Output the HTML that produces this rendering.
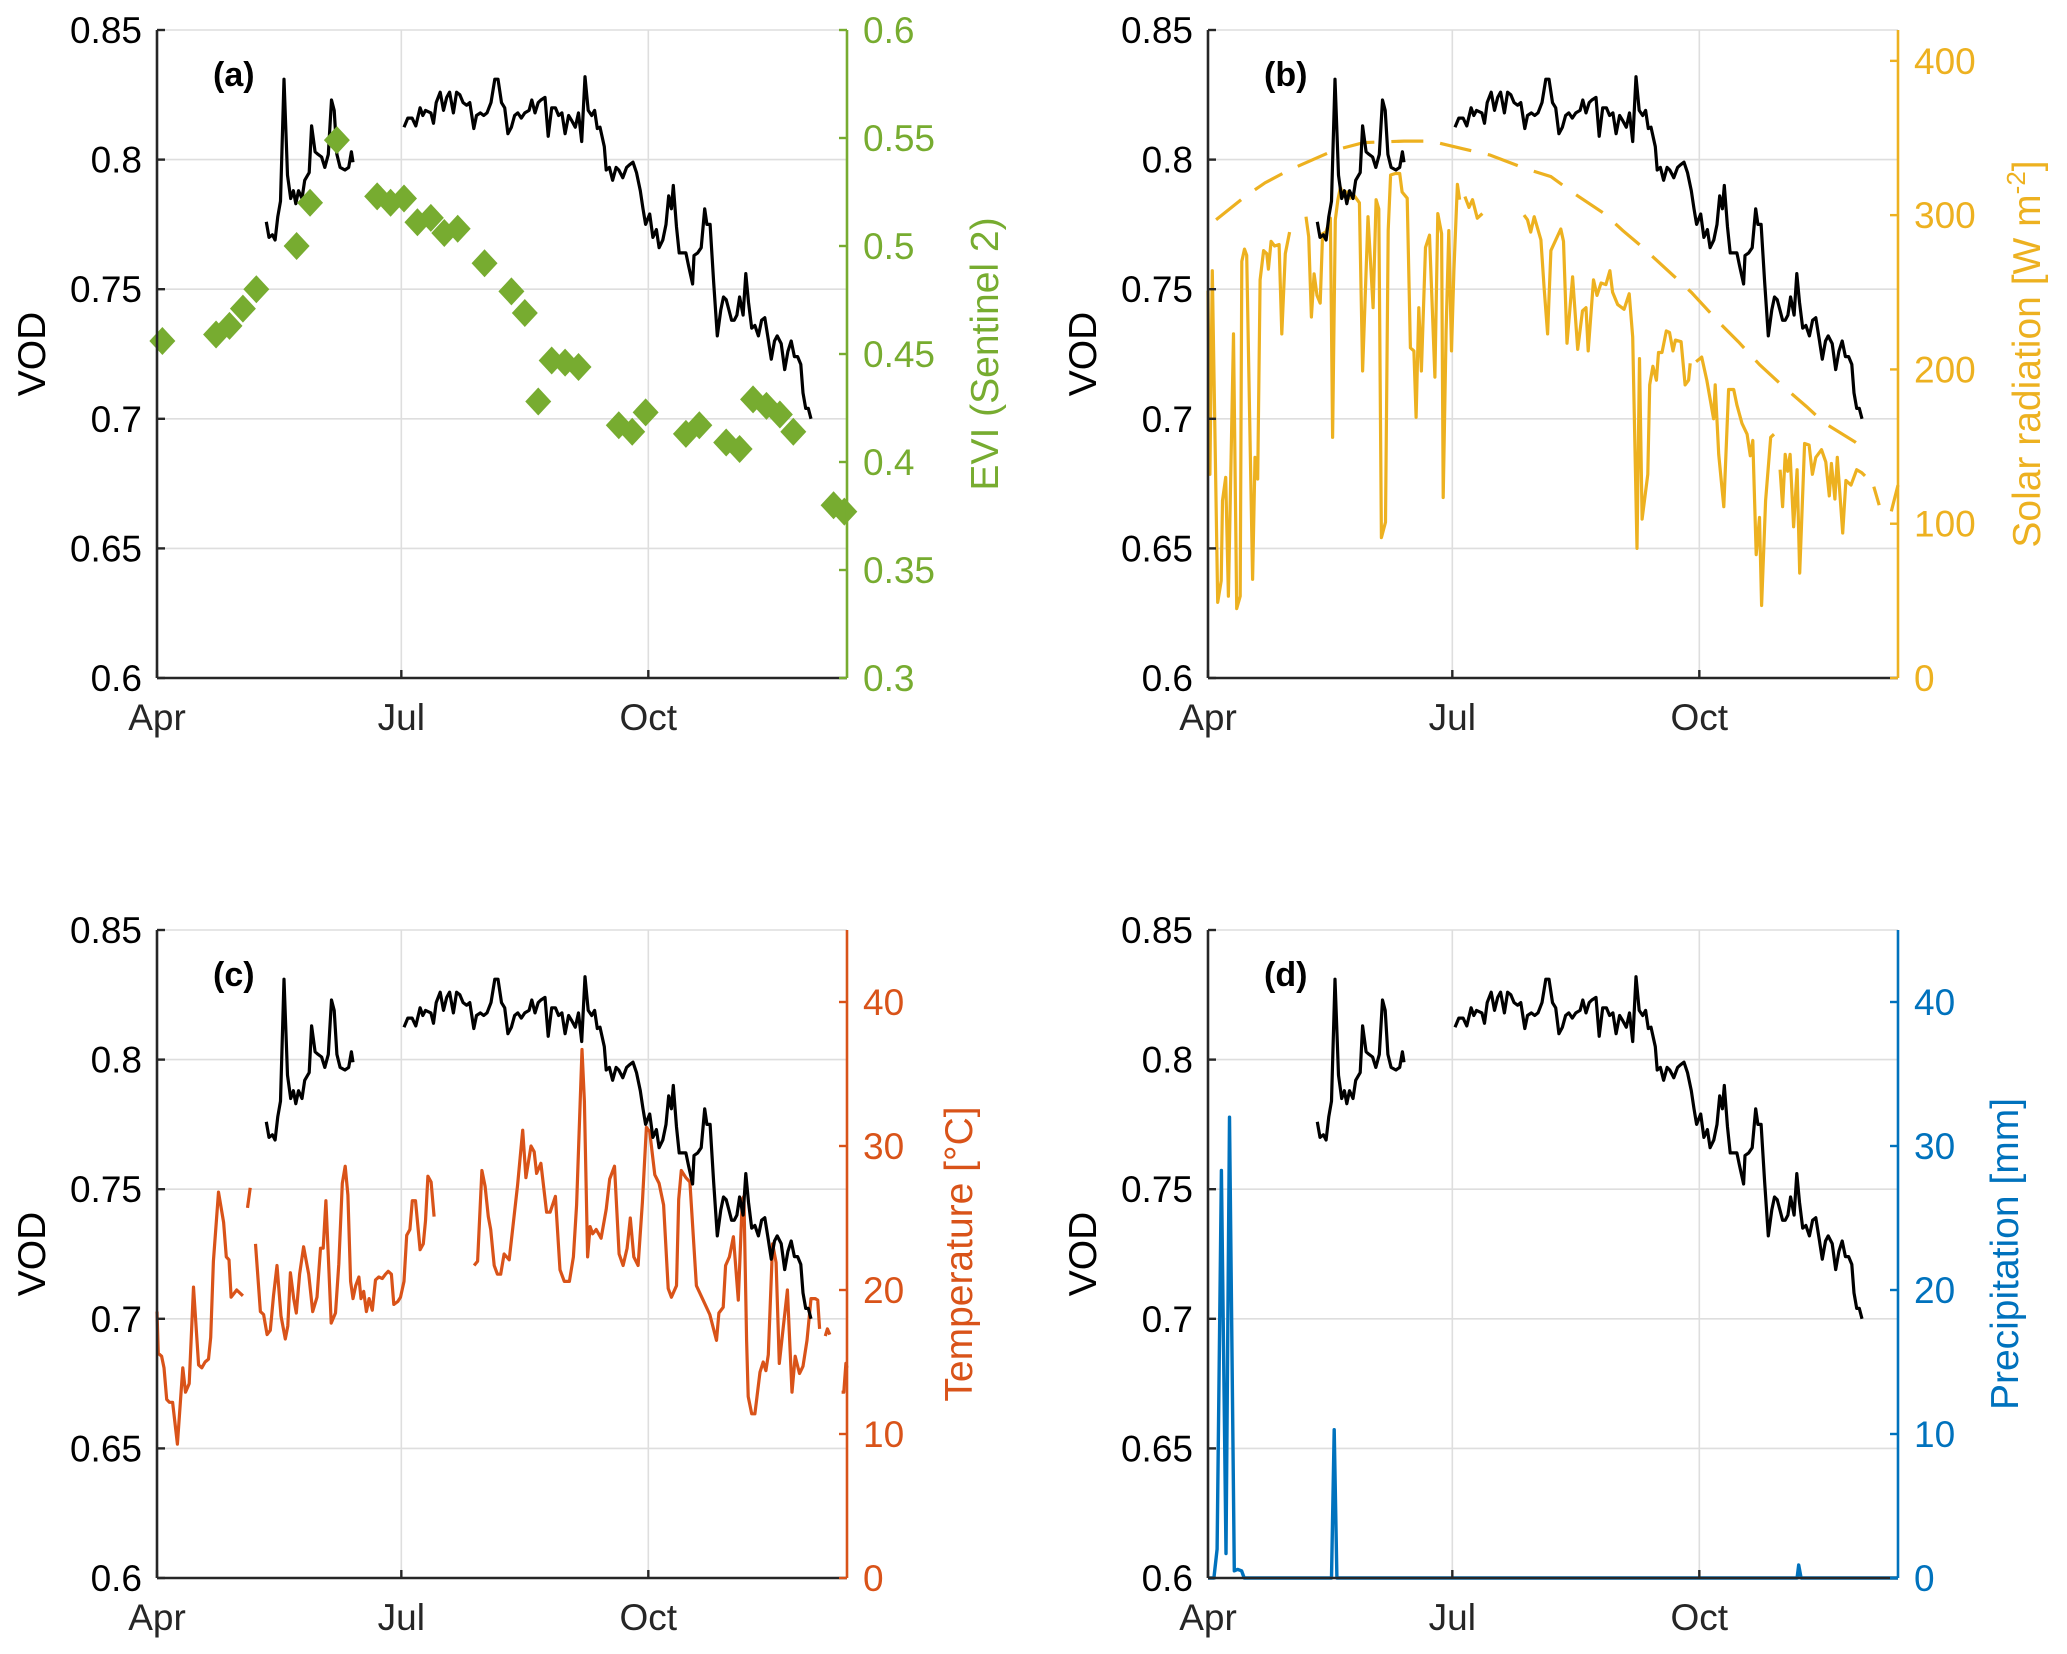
<!DOCTYPE html>
<html>
<head>
<meta charset="utf-8">
<style>
html,body{margin:0;padding:0;background:#fff;}
svg{display:block;font-family:"Liberation Sans",Arial,sans-serif;}
</style>
</head>
<body>
<svg id="fig" width="2067" height="1654" viewBox="0 0 2067 1654" xmlns="http://www.w3.org/2000/svg"></svg>
<script>
// ---------- DATA ----------
const monthLabels = ["Apr","Jul","Oct"];
const monthDays = [0,91,183];
const vodTicks = [0.6,0.65,0.7,0.75,0.8,0.85];
const vodTickLabels = ["0.6","0.65","0.7","0.75","0.8","0.85"];

const vodDays = [40.7,41.7,43,44,45,46,47.3,48.6,49.8,50.8,51.7,52.7,54,55,56.7,57.6,58.9,60,61.3,62.5,63.8,65,66,67,68.2,70,71.4,72.4,73,null,
92,93.4,95,96.4,98,99,100,102,103,104,105.5,106.7,107.9,109,110.4,111.6,112.8,114,115.3,116.5,118,119,120.4,121.7,122.9,124.4,125.8,127,128.3,129.5,130.7,132,133.2,134.4,135.7,137,138.6,139.6,140.8,142,143,144.5,145.7,147,148.4,149.6,150.8,152,153.3,154.5,155.8,157,158.2,159.4,160.6,161.9,163,164,165,166.6,167.3,168.5,169.7,171,172,173.5,174.9,176,177.3,178.6,180,181,182,183.5,184.7,186,187,188.4,189.6,190.6,191.6,192.3,193.5,194.5,195.7,197,198,199.5,200,201.4,202.7,204,204.8,206,207.3,208.7,210,211,212,213,214,215,216,217,218.3,219.3,220.3,221.5,222.7,224,225.2,226.4,227.6,228.8,230,231,232.5,233.8,235,236.2,237.4,238.6,239.8,240.6,241.6,242.6,243.6];
const vodVals = [.776,.770,.771,.769,.778,.784,.831,.794,.785,.788,.783,.788,.785,.792,.795,.813,.803,.802,.801,.797,.802,.823,.819,.802,.797,.796,.797,.803,.799,null,
.8125,.816,.816,.813,.820,.817,.819,.818,.814,.822,.826,.819,.824,.826,.818,.826,.825,.822,.821,.822,.812,.817,.818,.817,.818,.822,.831,.831,.822,.820,.810,.8125,.817,.818,.816,.818,.819,.823,.818,.822,.823,.824,.809,.820,.820,.817,.818,.810,.817,.815,.8125,.818,.807,.832,.819,.817,.819,.812,.8125,.805,.796,.797,.792,.797,.796,.793,.797,.798,.799,.795,.788,.781,.775,.779,.770,.773,.766,.769,.775,.786,.781,.790,.774,.764,.764,.764,.759,.752,.763,.764,.766,.781,.775,.775,.753,.732,.742,.747,.746,.742,.738,.738,.740,.747,.740,.756,.745,.735,.736,.732,.738,.739,.731,.723,.730,.732,.729,.719,.726,.730,.724,.724,.721,.710,.704,.704,.700];

const eviDays = [2,22,27,32,37,52,57,67,82,87,92,97,102,107,112,122,132,137,142,147,152,157,172,177,182,197,202,212,217,222,227,232,237,252,256];
const eviVals = [.456,.459,.463,.471,.480,.500,.520,.549,.523,.520,.522,.511,.513,.506,.508,.492,.479,.469,.428,.447,.446,.444,.417,.414,.423,.413,.417,.409,.406,.429,.426,.422,.414,.380,.377];
const eviTicks = [0.3,0.35,0.4,0.45,0.5,0.55,0.6];
const eviTickLabels = ["0.3","0.35","0.4","0.45","0.5","0.55","0.6"];

const solDays = [0,0.7,1.6,3.6,4.9,5.4,6.6,7.6,9.5,10.7,12,12.6,13.6,14.4,16.6,17.5,18.5,19.4,20.7,21.9,22.5,23.5,24.8,26.5,27.5,28.8,30.4,null,
36.5,37.5,38.5,39.5,40.6,41.8,42.7,43.9,45.6,46.4,47.4,48.4,49.3,50.5,51.8,53,54.3,56.4,57.6,59.6,61.5,62.6,63.6,64.6,66.1,67.1,68,69.8,71.4,72.3,74.2,75.4,76.7,77.5,78.5,79.5,81,82.5,84.5,85.6,87,87.6,88.7,89.7,90.7,91.6,92.9,93.7,null,
95.7,97.2,98.5,100.3,102.2,null,
117.7,119,120.2,121.5,124,125.2,126.5,127.7,131.4,132.4,133.7,135.8,137.7,139.5,140.8,141.6,143.6,144.9,146.4,148.2,149.7,150.7,152.6,155,156.9,158.2,159.8,160.7,161.7,163.8,164.5,165.7,167,167.8,169.1,170.7,171.9,173.2,174.1,176.2,177.7,179,179.6,null,
181.8,183.9,185.8,188.3,188.9,190.2,192.1,193.9,195.8,197,198.9,200.8,202,202.9,204.2,205.4,206.2,207.7,209.6,210.8,null,
213.1,214,215,215.9,216.8,218.1,219.4,220.4,222.2,223.9,225.1,226.4,228.5,230.1,231.4,232.2,233.5,234.4,236.4,237.6,239.5,241.6,243.5,244.7];
const solVals = [251,132,264,49,63,115,130,53,223,45,53,270,278,274,64,143,129,258,277,275,265,283,280,281,223,275,289,null,
299,286,234,262,248,243,288,289,298,156,297,310,318,312,315,311,313,308,199,299,240,310,304,91,101,290,326,327,327,315,311,214,212,169,240,199,279,287,195,301,288,117,225,290,212,264,320,310,null,
312,305,310,298,301,null,
300,297,289,299,284,253,223,277,291,283,217,260,213,238,240,212,258,248,256,255,264,250,242,239,249,221,84,207,103,132,190,202,193,211,211,225,224,212,219,218,190,193,204,null,
205,208,193,168,190,145,111,187,187,177,165,158,144,154,80,104,47,115,156,158,null,
135,111,145,134,145,98,135,68,152,151,132,143,148,140,118,139,116,143,94,128,125,135,133,131];
const clearDays = [3,13.8,21.3,30,47,58,73,83,95,105,118.5,127.7,136.4,147.6,154.5,161.3,173.2,180,190.6,197.5,205.5,213.6,222.9,229.8,241,246,null,248,250,null,254.5,257];
const clearVals = [297,312,321,329,342,347,348,348,343,339,330,325,314,301,290,280,261,250,230,218,203,190,176,165,153,146,null,124,112,null,108,125];
const solTicks = [0,100,200,300,400];
const solTickLabels = ["0","100","200","300","400"];

const tempDays = [0,0.5,1.7,2.6,3.6,4.6,5.8,7.6,9.6,10.6,12,13.6,15.5,16.7,17.9,19.2,20,21,22.9,24.8,25.8,26.8,27.6,29.7,32,null,
33.7,34.7,null,
36.7,38.5,39.7,41,42.2,43.4,44.7,46.2,47.8,48.7,49.7,50.9,51.9,53.1,54.6,56.5,58,59.6,60.9,61.9,62.9,64.9,66.5,67.7,69,70.1,71.1,72.1,73,74,75.2,76,77,78,79,80.2,81.4,82.6,83.9,85.1,86.1,87.3,88.2,89.7,90.7,92,93,94.2,95.1,96.3,98,99.2,100,100.9,102.1,103.2,null,
118.1,119.4,121,122.2,123.4,124.3,125.6,126.8,128,129.3,131.2,134.3,136.2,137.4,139.3,140.5,141.4,143,145.1,146.4,148.4,150.1,151.7,153.6,155.1,156.3,158.3,159.2,160.4,161.3,162.3,163.6,165.4,167.3,168.6,170.4,172.1,173.6,175.1,176.3,177.6,179.2,180.8,182.3,183.5,185.4,187,188.7,190.4,191.6,193.5,194.3,195.3,197,198.5,200.9,203.4,205.9,208.4,209.3,210.9,211.8,213.2,214.7,216.5,218,218.6,219.6,220.2,221.5,222.7,224.6,225.8,226.8,227.7,229.3,230.6,231.8,233.3,234.8,236.5,237.7,239.3,240.6,242.1,243.6,245.2,246.1,246.8,null,
248.9,249.7,250.6,null,
255,255.8,256.6,257];
const tempVals = [18.5,15.6,15.4,14.6,12.4,12.2,12.2,9.3,14.6,12.9,13.5,20.2,14.8,14.6,15.0,15.2,16.7,22.0,26.8,24.7,22.3,22.1,19.5,20.0,19.6,null,
25.7,27.1,null,
23.2,18.5,18.3,16.9,17.2,19.6,21.7,18.2,16.6,17.5,21.2,19.4,18.4,21.1,23.0,21.1,18.5,19.5,22.9,22.9,26.2,17.7,18.4,21.8,27.4,28.6,26.6,20.6,19.4,20.3,20.9,19.4,19.9,18.5,19.4,18.6,20.7,20.9,20.8,21.1,21.3,21.1,19.0,19.2,19.5,20.6,23.8,24.2,26.2,26.2,22.8,23.2,24.8,27.9,27.5,25.1,null,
21.7,22.0,28.3,27.2,25.1,24.2,21.7,21.1,21.1,22.5,22.1,27.3,31.1,27.8,30.0,29.6,28.1,28.8,25.4,25.4,26.5,21.4,20.6,20.6,22.3,25.9,36.7,33.1,22.3,24.4,23.9,24.2,23.6,25.6,27.7,28.6,22.5,21.7,22.9,25.0,22.3,21.7,26.1,31.3,31.0,28.0,27.4,25.9,20.1,19.5,20.3,26.3,28.3,27.8,27.5,20.3,19.3,18.3,16.5,18.4,18.8,21.7,22.3,23.7,19.3,26.3,26.5,16.5,12.6,11.4,11.4,14.3,15.0,14.4,15.5,23.2,21.9,14.9,17.5,20.0,12.9,15.4,14.2,14.7,16.5,19.4,19.4,19.3,17.3,null,
16.8,17.3,16.9,null,
12.9,12.9,14.9,14.6];
const tempTicks = [0,10,20,30,40];
const tempTickLabels = ["0","10","20","30","40"];

const precDays = [0,2.2,3.4,5,6.7,8,9.8,11,12.5,13.5,46,47,48,219.4,220,220.9,257];
const precVals = [0,0,2,28.3,1.7,32,0.5,0.6,0.5,0,0,10.3,0,0,0.9,0,0];
const precTicks = [0,10,20,30,40];
const precTickLabels = ["0","10","20","30","40"];

// ---------- DRAWING ----------
const NS = "http://www.w3.org/2000/svg";
const svg = document.getElementById("fig");
const XMAX = 257;
const C_EVI = "#77AC30", C_SOL = "#EDB120", C_TMP = "#D95319", C_PRE = "#0072BD";

function el(tag, attrs, parent, name) {
  const e = document.createElementNS(NS, tag);
  for (const k in attrs) e.setAttribute(k, attrs[k]);
  
  
  (parent || svg).appendChild(e);
  return e;
}
function txt(s, attrs, parent, name) {
  const t = el("text", attrs, parent, name);
  t.textContent = s;
  return t;
}
function pathFrom(days, vals, xf, yf) {
  let d = "", pen = false;
  for (let i = 0; i < days.length; i++) {
    if (days[i] === null || vals[i] === null) { pen = false; continue; }
    d += (pen ? "L" : "M") + xf(days[i]).toFixed(1) + "," + yf(vals[i]).toFixed(1);
    pen = true;
  }
  return d;
}

function panel(cfg) {
  const g = el("g", {}, svg, "panel-" + cfg.id);
  const L = cfg.L, R = cfg.R, T = cfg.T, B = cfg.B;
  const xf = d => L + d / XMAX * (R - L);
  const yl = v => B - (v - 0.6) / 0.25 * (B - T);
  const yr = v => B - (v - cfg.rmin) / (cfg.rmax - cfg.rmin) * (B - T);

  const grid = el("g", {stroke: "#dedede", "stroke-width": 1.6}, g, "grid");
  vodTicks.forEach(v => {
    const ln = el("line", {x1: L, x2: R, y1: yl(v), y2: yl(v)}, grid, "grid-line-y");
  });
  monthDays.forEach((d, i) => {
    if (i === 0) return;
    const ln = el("line", {x1: xf(d), x2: xf(d), y1: T, y2: B}, grid, "grid-line-x");
  });

  cfg.drawRight(g, xf, yr);

  const vp = el("path", {d: pathFrom(vodDays, vodVals, xf, yl), fill: "none", stroke: "#000", "stroke-width": 3.2, "stroke-linejoin": "round"}, g, "vod-line");

  if (cfg.drawOver) cfg.drawOver(g, xf, yr);

  const ax = el("g", {}, g, "axes");
  el("line", {x1: L, x2: L, y1: T, y2: B, stroke: "#262626", "stroke-width": 2.6}, ax, "left-axis-line");
  el("line", {x1: L, x2: R, y1: B, y2: B, stroke: "#262626", "stroke-width": 2.6}, ax, "x-axis-line");
  el("line", {x1: R, x2: R, y1: T, y2: B, stroke: cfg.color, "stroke-width": 2.6}, ax, "right-axis-line");

  vodTicks.forEach((v, i) => {
    el("line", {x1: L, x2: L + 8, y1: yl(v), y2: yl(v), stroke: "#262626", "stroke-width": 2.4}, ax, "left-tick");
    txt(vodTickLabels[i], {x: L - 15, y: yl(v) + 13, "text-anchor": "end", "font-size": 37, fill: "#000"}, ax, "left-tick-label");
  });
  monthDays.forEach((d, i) => {
    el("line", {x1: xf(d), x2: xf(d), y1: B, y2: B - 8, stroke: "#262626", "stroke-width": 2.4}, ax, "x-tick");
    txt(monthLabels[i], {x: xf(d), y: B + 52, "text-anchor": "middle", "font-size": 37, fill: "#262626"}, ax, "x-tick-label");
  });
  cfg.rTicks.forEach((v, i) => {
    el("line", {x1: R, x2: R - 8, y1: yr(v), y2: yr(v), stroke: cfg.color, "stroke-width": 2.4}, ax, "right-tick");
    txt(cfg.rLabels[i], {x: R + 16, y: yr(v) + 13, "text-anchor": "start", "font-size": 37, fill: cfg.color}, ax, "right-tick-label");
  });

  const cy = (T + B) / 2;
  txt("VOD", {x: 0, y: 0, transform: "translate(" + (L - 112) + "," + cy + ") rotate(-90)", "text-anchor": "middle", "font-size": 39, fill: "#000"}, ax, "y-axis-title");
  const rt = el("text", {x: 0, y: 0, transform: "translate(" + cfg.rLabelX + "," + cy + ") rotate(-90)", "text-anchor": "middle", "font-size": 39, fill: cfg.color}, ax, "right-axis-title");
  rt.textContent = cfg.rTitle;
  if (cfg.sup) {
    const sp = el("tspan", {"baseline-shift": "super", "font-size": 26}, rt, "superscript");
    sp.textContent = cfg.sup;
    const tail = el("tspan", {}, rt, "bracket");
    tail.textContent = "]";
  }
  txt("(" + cfg.id + ")", {x: L + 56, y: T + 56, "font-size": 34, "font-weight": "bold", fill: "#000"}, ax, "panel-label");
}

panel({id: "a", L: 157, R: 847, T: 30, B: 678, rmin: 0.3, rmax: 0.6, color: C_EVI,
  rTicks: eviTicks, rLabels: eviTickLabels, rTitle: "EVI (Sentinel 2)", rLabelX: 998,
  drawRight: function(){},
  drawOver: function(g, xf, yr) {
    const mg = el("g", {fill: C_EVI}, g, "evi-markers");
    for (let i = 0; i < eviDays.length; i++) {
      const x = xf(eviDays[i]), y = yr(eviVals[i]);
      const p = el("path", {d: "M" + x + "," + (y - 14) + "L" + (x + 13) + "," + y + "L" + x + "," + (y + 14) + "L" + (x - 13) + "," + y + "Z"}, mg, "evi-marker");
    }
  }});

panel({id: "b", L: 1208, R: 1898, T: 30, B: 678, rmin: 0, rmax: 420, color: C_SOL,
  rTicks: solTicks, rLabels: solTickLabels, rTitle: "Solar radiation [W m", sup: "-2", rLabelX: 2040,
  drawRight: function(g, xf, yr) {
    el("path", {d: pathFrom(clearDays, clearVals, xf, yr), fill: "none", stroke: C_SOL, "stroke-width": 3.2, "stroke-dasharray": "32 17"}, g, "clear-sky-radiation-line");
    el("path", {d: pathFrom(solDays, solVals, xf, yr), fill: "none", stroke: C_SOL, "stroke-width": 3.2, "stroke-linejoin": "round"}, g, "solar-radiation-line");
  }});

panel({id: "c", L: 157, R: 847, T: 930, B: 1578, rmin: 0, rmax: 45, color: C_TMP,
  rTicks: tempTicks, rLabels: tempTickLabels, rTitle: "Temperature [°C]", rLabelX: 972,
  drawRight: function(g, xf, yr) {
    el("path", {d: pathFrom(tempDays, tempVals, xf, yr), fill: "none", stroke: C_TMP, "stroke-width": 3.2, "stroke-linejoin": "round"}, g, "temperature-line");
  }});

panel({id: "d", L: 1208, R: 1898, T: 930, B: 1578, rmin: 0, rmax: 45, color: C_PRE,
  rTicks: precTicks, rLabels: precTickLabels, rTitle: "Precipitation [mm]", rLabelX: 2018,
  drawRight: function(){},
  drawOver: function(g, xf, yr) {
    el("path", {d: pathFrom(precDays, precVals, xf, yr), fill: "none", stroke: C_PRE, "stroke-width": 3.4, "stroke-linejoin": "round"}, g, "precipitation-line");
  }});
</script>
</body>
</html>
